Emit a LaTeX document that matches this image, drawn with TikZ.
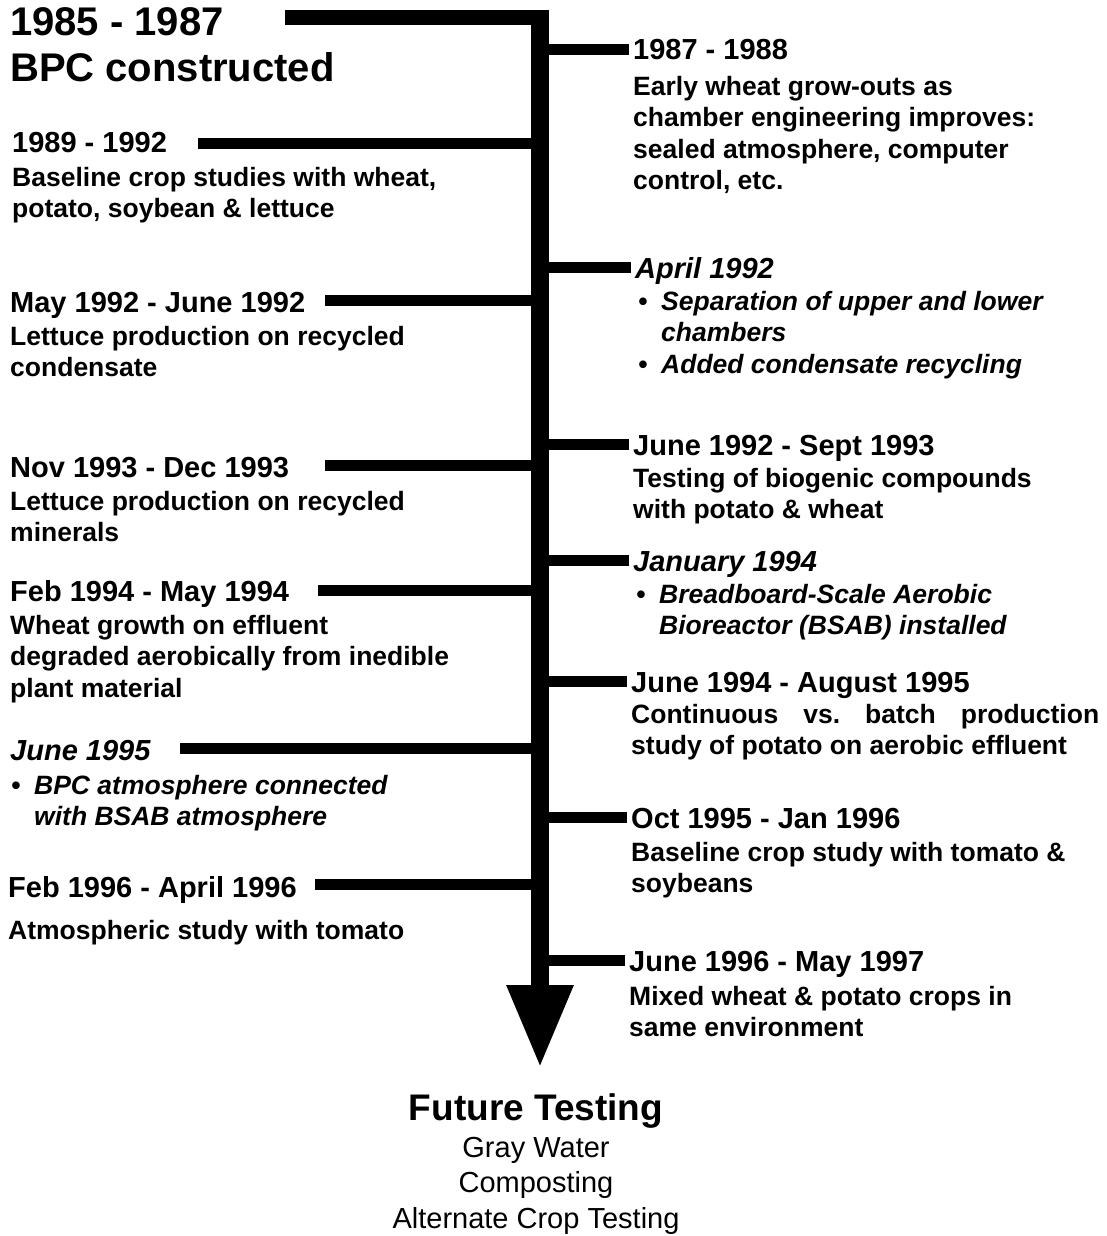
\documentclass[tikz,border=0pt]{standalone}
\usepackage{fontspec}
\setmainfont{Liberation Sans}
\usetikzlibrary{arrows.meta}

\newcommand{\datesize}{\fontsize{29}{34}\selectfont\bfseries}
\newcommand{\descsize}{\fontsize{26.5}{31.5}\selectfont\bfseries}
\newcommand{\bul}{\makebox[23pt][l]{\textbullet}}
\newcommand{\nobul}{\hspace*{23pt}}

\begin{document}
\begin{tikzpicture}[x=1pt, y=-1pt,
    date/.style={font=\datesize, inner sep=0pt, anchor=base west, text height=21pt, text depth=0pt},
    desc/.style={font=\descsize, inner sep=0pt, anchor=north west, align=left},
    branch/.style={line width=11pt},
    spine/.style={line width=18pt, -{Triangle[width=62pt, length=83pt]}}]
    \useasboundingbox (0,0) rectangle (1106,1236);

    % left side
    \node[font=\fontsize{40}{46}\selectfont\bfseries, inner sep=0pt, anchor=north west, align=left] (bpc) at (10,7.5) {1985 - 1987\\BPC constructed};
    \node[date] (d8992) at (12,153) {1989 - 1992};
    \node[desc] (t8992) at (12,167) {Baseline crop studies with wheat,\\potato, soybean \& lettuce};
    \node[date] (d9292) at (10,312) {May 1992 - June 1992};
    \node[desc] (t9292) at (10,326) {Lettuce production on recycled\\condensate};
    \node[date] (d9393) at (10,477) {Nov 1993 - Dec 1993};
    \node[desc] (t9393) at (10,491) {Lettuce production on recycled\\minerals};
    \node[date] (d9494) at (10,601) {Feb 1994 - May 1994};
    \node[desc] (t9494) at (10,615) {Wheat growth on effluent\\degraded aerobically from inedible\\plant material};
    \node[date, font=\datesize\itshape] (d95) at (10,760) {June 1995};
    \node[desc, font=\descsize\itshape] (t95) at (11,775) {\bul BPC atmosphere connected\\\nobul with BSAB atmosphere};
    \node[date] (d96) at (8,897) {Feb 1996 - April 1996};
    \node[desc] (t96) at (8,920) {Atmospheric study with tomato};

    % right side
    \node[date] (d8788) at (633,60) {1987 - 1988};
    \node[desc] (t8788) at (633,76) {Early wheat grow-outs as\\chamber engineering improves:\\sealed atmosphere, computer\\control, etc.};
    \node[date, font=\datesize\itshape] (d92) at (635,278) {April 1992};
    \node[desc, font=\descsize\itshape] (t92) at (638,291) {\bul Separation of upper and lower\\\nobul chambers\\\bul Added condensate recycling};
    \node[date] (d9293) at (633,455) {June 1992 - Sept 1993};
    \node[desc] (t9293) at (633,468) {Testing of biogenic compounds\\with potato \& wheat};
    \node[date, font=\datesize\itshape] (d94) at (633,571) {January 1994};
    \node[desc, font=\descsize\itshape] (t94) at (636,584) {\bul Breadboard-Scale Aerobic\\\nobul Bioreactor (BSAB) installed};
    \node[date] (d9495) at (631,692) {June 1994 - August 1995};
    \node[desc] (t9495) at (631,704) {\makebox[468pt][s]{Continuous vs.\ batch production}\\study of potato on aerobic effluent};
    \node[date] (d9596) at (631,828) {Oct 1995 - Jan 1996};
    \node[desc] (t9596) at (631,842) {Baseline crop study with tomato \&\\soybeans};
    \node[date] (d9697) at (629,971) {June 1996 - May 1997};
    \node[desc] (t9697) at (629,986) {Mixed wheat \& potato crops in\\same environment};

    % future
    \node[font=\fontsize{37}{44}\selectfont\bfseries, inner sep=0pt, anchor=base] (future) at (536,1120) {Future Testing};
    \node[font=\fontsize{29}{35.5}\selectfont, inner sep=0pt, anchor=north, align=center] (plans) at (536,1137) {Gray Water\\Composting\\Alternate Crop Testing};

    % time line
    \coordinate (top) at (540,10);
    \coordinate (tip) at (540,1068);
    \coordinate (start) at (285,17.5);
    \draw[line width=15pt] (start) -- (start -| top);
    \draw[spine] (top) -- (tip);

    \coordinate (b8992) at (198,143);
    \coordinate (b9292) at (325,300);
    \coordinate (b9393) at (325,465);
    \coordinate (b9494) at (318,590);
    \coordinate (b95) at (180,748);
    \coordinate (b96) at (315,884);
    \foreach \b in {b8992,b9292,b9393,b9494,b95,b96}
      \draw[branch] (\b) -- (\b -| top);
    \foreach \d in {d8788,d92,d9293,d94,d9495,d9596,d9697}
      \draw[branch] (\d.west -| top) -- ([xshift=-4pt]\d.west);
\end{tikzpicture}
\end{document}
